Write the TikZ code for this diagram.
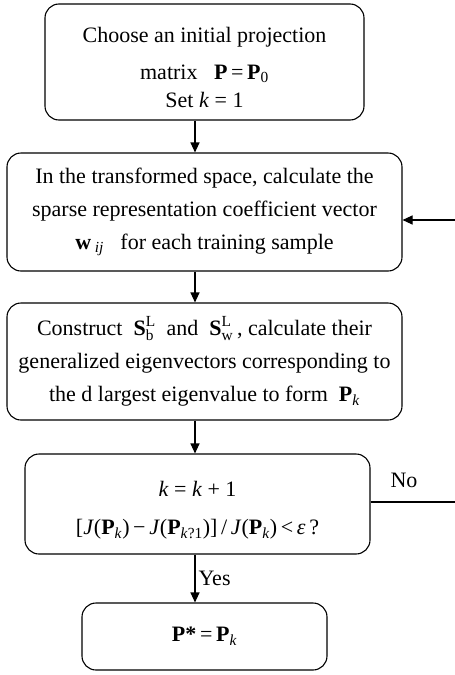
\documentclass[tikz,border=0pt]{standalone}
\usepackage{fontspec}
\usepackage{amsmath}
\setmainfont{Liberation Serif}
\usetikzlibrary{arrows.meta}
\newcommand{\sbx}[1]{\textsubscript{\textit{#1}}}
\begin{document}
\begin{tikzpicture}[x=1pt,y=-1pt,
  box/.style={draw, line width=1.1pt, rounded corners=14pt, align=center,
    inner sep=0pt, font=\fontsize{22}{33}\selectfont},
  arr/.style={-{Triangle[length=10pt,width=9pt]}, line width=1.1pt},
  lbl/.style={font=\fontsize{22}{24}\selectfont, inner sep=0pt}]
\useasboundingbox (0,0) rectangle (455,675);
\node[box, minimum width=319pt, minimum height=116pt] (b1) at (204.5,62)
  {\rule{0pt}{26pt}Choose an initial projection\\[4pt]
   matrix \ \ \textbf{P}\,=\,\textbf{P}\textsubscript{0}\\[-5pt]
   Set \textit{k} = 1};
\node[box, minimum width=395pt, minimum height=118pt] (b2) at (204.5,212)
  {In the transformed space, calculate the\\
   sparse representation coefficient vector\\
   \textbf{w}\,\sbx{ij} \ \ for each training sample};
\node[box, minimum width=395pt, minimum height=117pt] (b3) at (204.5,361.5)
  {Construct \ $\textbf{S}^{\text{L}}_{\text{b}}$ \ and \ $\textbf{S}^{\text{L}}_{\text{w}}$\,, calculate their\\
   generalized eigenvectors corresponding to\\
   the d largest eigenvalue to form \ \textbf{P}\sbx{k}};
\node[box, minimum width=345pt, minimum height=100pt] (b4) at (197.5,504)
  {\rule{0pt}{28pt}\textit{k} = \textit{k} + 1\\[5pt]
   [\textit{J}(\textbf{P}\sbx{k})\,−\,\textit{J}(\textbf{P}\textsubscript{\textit{k}?1})]\,/\,\textit{J}(\textbf{P}\sbx{k})\,<\,\textit{ε}\,?};
\node[box, minimum width=245pt, minimum height=67pt] (b5) at (204.5,636.5)
  {\textbf{P*}\,=\,\textbf{P}\sbx{k}};
\coordinate (ax) at (195,0);
\coordinate (fbtop) at (462,220);
\coordinate (fbbot) at (462,502);
\draw[arr] (b1.south -| ax) -- (b2.north -| ax);
\draw[arr] (b2.south -| ax) -- (b3.north -| ax);
\draw[arr] (b3.south -| ax) -- (b4.north -| ax);
\draw[arr] (b4.south -| ax) -- node[lbl, right=3pt] {Yes} (b5.north -| ax);
\draw[arr] (b4.east |- fbbot) -- (fbbot) -- (fbtop) -- (b2.east |- fbtop);
\node[lbl] (no) at (404,480) {No};
\end{tikzpicture}
\end{document}
